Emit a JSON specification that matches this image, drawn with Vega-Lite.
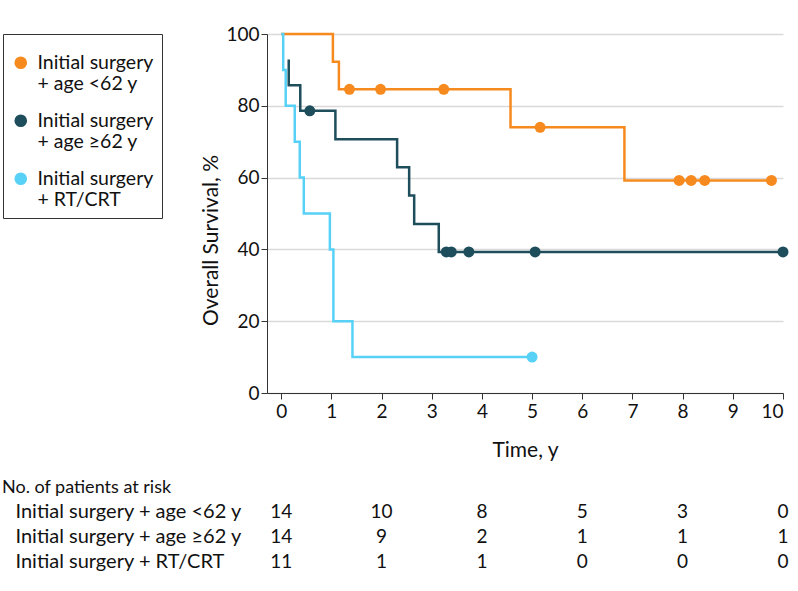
{
  "$schema": "https://vega.github.io/schema/vega-lite/v6.json",
  "padding": {"left": 2, "top": 25, "right": 5, "bottom": 5},
  "background": "white",
  "config": {
    "font": "Lato",
    "view": {"stroke": null},
    "axis": {"labelFont": "Lato", "titleFont": "Lato", "labelColor": "#111", "titleColor": "#111", "titleFontWeight": "normal", "labelFontSize": 19, "titleFontSize": 21},
    "title": {"font": "Lato", "fontWeight": "normal", "fontSize": 18, "color": "#111"}
  },
  "datasets": {
    "curves": [
      {"group": "Initial surgery + age <62 y", "i": 0, "time": 0, "surv": 100},
      {"group": "Initial surgery + age <62 y", "i": 1, "time": 1.03, "surv": 92.3},
      {"group": "Initial surgery + age <62 y", "i": 2, "time": 1.15, "surv": 84.6},
      {"group": "Initial surgery + age <62 y", "i": 3, "time": 4.57, "surv": 74.0},
      {"group": "Initial surgery + age <62 y", "i": 4, "time": 6.84, "surv": 59.2},
      {"group": "Initial surgery + age <62 y", "i": 5, "time": 9.77, "surv": 59.2},
      {"group": "Initial surgery + age ≥62 y", "i": 0, "time": 0.15, "surv": 92.9},
      {"group": "Initial surgery + age ≥62 y", "i": 1, "time": 0.15, "surv": 85.7},
      {"group": "Initial surgery + age ≥62 y", "i": 2, "time": 0.38, "surv": 78.6},
      {"group": "Initial surgery + age ≥62 y", "i": 3, "time": 1.08, "surv": 70.7},
      {"group": "Initial surgery + age ≥62 y", "i": 4, "time": 2.31, "surv": 62.9},
      {"group": "Initial surgery + age ≥62 y", "i": 5, "time": 2.55, "surv": 55.0},
      {"group": "Initial surgery + age ≥62 y", "i": 6, "time": 2.65, "surv": 47.1},
      {"group": "Initial surgery + age ≥62 y", "i": 7, "time": 3.14, "surv": 39.3},
      {"group": "Initial surgery + age ≥62 y", "i": 8, "time": 10, "surv": 39.3},
      {"group": "Initial surgery + RT/CRT", "i": 0, "time": 0, "surv": 100},
      {"group": "Initial surgery + RT/CRT", "i": 1, "time": 0.04, "surv": 90},
      {"group": "Initial surgery + RT/CRT", "i": 2, "time": 0.09, "surv": 80},
      {"group": "Initial surgery + RT/CRT", "i": 3, "time": 0.27, "surv": 70},
      {"group": "Initial surgery + RT/CRT", "i": 4, "time": 0.37, "surv": 60},
      {"group": "Initial surgery + RT/CRT", "i": 5, "time": 0.45, "surv": 50},
      {"group": "Initial surgery + RT/CRT", "i": 6, "time": 0.97, "surv": 40},
      {"group": "Initial surgery + RT/CRT", "i": 7, "time": 1.04, "surv": 20},
      {"group": "Initial surgery + RT/CRT", "i": 8, "time": 1.42, "surv": 10},
      {"group": "Initial surgery + RT/CRT", "i": 9, "time": 5.0, "surv": 10}
    ],
    "censors": [
      {"group": "Initial surgery + age <62 y", "time": 1.36, "surv": 84.6},
      {"group": "Initial surgery + age <62 y", "time": 1.98, "surv": 84.6},
      {"group": "Initial surgery + age <62 y", "time": 3.24, "surv": 84.6},
      {"group": "Initial surgery + age <62 y", "time": 5.16, "surv": 74.0},
      {"group": "Initial surgery + age <62 y", "time": 7.93, "surv": 59.2},
      {"group": "Initial surgery + age <62 y", "time": 8.17, "surv": 59.2},
      {"group": "Initial surgery + age <62 y", "time": 8.44, "surv": 59.2},
      {"group": "Initial surgery + age <62 y", "time": 9.77, "surv": 59.2},
      {"group": "Initial surgery + age ≥62 y", "time": 0.57, "surv": 78.6},
      {"group": "Initial surgery + age ≥62 y", "time": 3.29, "surv": 39.3},
      {"group": "Initial surgery + age ≥62 y", "time": 3.39, "surv": 39.3},
      {"group": "Initial surgery + age ≥62 y", "time": 3.74, "surv": 39.3},
      {"group": "Initial surgery + age ≥62 y", "time": 5.06, "surv": 39.3},
      {"group": "Initial surgery + age ≥62 y", "time": 10.0, "surv": 39.3},
      {"group": "Initial surgery + RT/CRT", "time": 5.0, "surv": 10}
    ],
    "risk": [
      {"group": "Initial surgery + age <62 y", "time": 0, "n": 14},
      {"group": "Initial surgery + age <62 y", "time": 2, "n": 10},
      {"group": "Initial surgery + age <62 y", "time": 4, "n": 8},
      {"group": "Initial surgery + age <62 y", "time": 6, "n": 5},
      {"group": "Initial surgery + age <62 y", "time": 8, "n": 3},
      {"group": "Initial surgery + age <62 y", "time": 10, "n": 0},
      {"group": "Initial surgery + age ≥62 y", "time": 0, "n": 14},
      {"group": "Initial surgery + age ≥62 y", "time": 2, "n": 9},
      {"group": "Initial surgery + age ≥62 y", "time": 4, "n": 2},
      {"group": "Initial surgery + age ≥62 y", "time": 6, "n": 1},
      {"group": "Initial surgery + age ≥62 y", "time": 8, "n": 1},
      {"group": "Initial surgery + age ≥62 y", "time": 10, "n": 1},
      {"group": "Initial surgery + RT/CRT", "time": 0, "n": 11},
      {"group": "Initial surgery + RT/CRT", "time": 2, "n": 1},
      {"group": "Initial surgery + RT/CRT", "time": 4, "n": 1},
      {"group": "Initial surgery + RT/CRT", "time": 6, "n": 0},
      {"group": "Initial surgery + RT/CRT", "time": 8, "n": 0},
      {"group": "Initial surgery + RT/CRT", "time": 10, "n": 0}
    ]
  },
  "vconcat": [
    {
      "width": 516,
      "height": 359,
      "resolve": {"legend": {"color": "independent"}},
      "encoding": {
        "x": {"field": "time", "type": "quantitative",
              "scale": {"domain": [-0.283, 10], "nice": false, "zero": false},
              "axis": {"title": "Time, y", "values": [0,1,2,3,4,5,6,7,8,9,10], "grid": false, "domainColor": "#333", "tickColor": "#333", "tickSize": 6, "labelPadding": 3, "titlePadding": 18, "labelAngle": 0}},
        "y": {"field": "surv", "type": "quantitative",
              "scale": {"domain": [0, 100], "nice": false},
              "axis": {"title": "Overall Survival, %", "values": [0,20,40,60,80,100], "grid": true, "gridColor": "#d9d9d9", "gridWidth": 1.5, "domainColor": "#333", "tickColor": "#333", "tickSize": 6, "labelPadding": 2, "titlePadding": 4, "titleY": 206}}
      },
      "layer": [
        {
          "data": {"name": "curves"},
          "mark": {"type": "line", "interpolate": "step-after", "strokeWidth": 2.5},
          "encoding": {
            "order": {"field": "i", "type": "quantitative"},
            "color": {"field": "group", "type": "nominal", "legend": null,
                      "scale": {"domain": ["Initial surgery + age <62 y", "Initial surgery + age ≥62 y", "Initial surgery + RT/CRT"],
                                "range": ["#F68A1E", "#1E4D5C", "#57D2F6"]}}
          }
        },
        {
          "data": {"name": "censors"},
          "mark": {"type": "point", "filled": true, "opacity": 1, "size": 120, "shape": "circle"},
          "encoding": {
            "color": {"field": "group", "type": "nominal",
                      "scale": {"domain": ["Initial surgery + age <62 y", "Initial surgery + age ≥62 y", "Initial surgery + RT/CRT"],
                                "range": ["#F68A1E", "#1E4D5C", "#57D2F6"]},
                      "legend": {"title": " ", "titleFontSize": 8, "titlePadding": 3, "orient": "none", "legendX": -264, "legendY": 0,
                                 "strokeColor": "#333", "padding": 8, "symbolType": "circle", "symbolSize": 160,
                                 "symbolOpacity": 1, "symbolStrokeWidth": 0,
                                 "labelFont": "Lato", "labelFontSize": 19.5, "labelColor": "#111", "labelLimit": 200, "labelOffset": 7,
                                 "rowPadding": 16,
                                 "labelExpr": "[slice(datum.label, 0, 15), slice(datum.label, 16)]",
                                 "labelBaseline": "middle",
                                 "encode": {"labels": {"update": {"lineHeight": {"value": 21}}}}}}
          }
        }
      ]
    },
    {
      "width": 516,
      "height": 75,
      "data": {"name": "risk"},
      "title": {"text": "No. of patients at risk", "anchor": "start", "frame": "bounds", "dx": -13, "offset": 2},
      "mark": {"type": "text", "fontSize": 19, "font": "Lato", "color": "#111"},
      "encoding": {
        "x": {"field": "time", "type": "quantitative", "scale": {"domain": [-0.283, 10], "nice": false, "zero": false}, "axis": null},
        "y": {"field": "group", "type": "nominal",
              "sort": ["Initial surgery + age <62 y", "Initial surgery + age ≥62 y", "Initial surgery + RT/CRT"],
              "axis": {"title": null, "domain": false, "ticks": false, "labelAlign": "left", "labelPadding": 252, "labelFontSize": 20, "labelLimit": 300}},
        "text": {"field": "n", "type": "quantitative"}
      }
    }
  ],
  "spacing": 19
}
